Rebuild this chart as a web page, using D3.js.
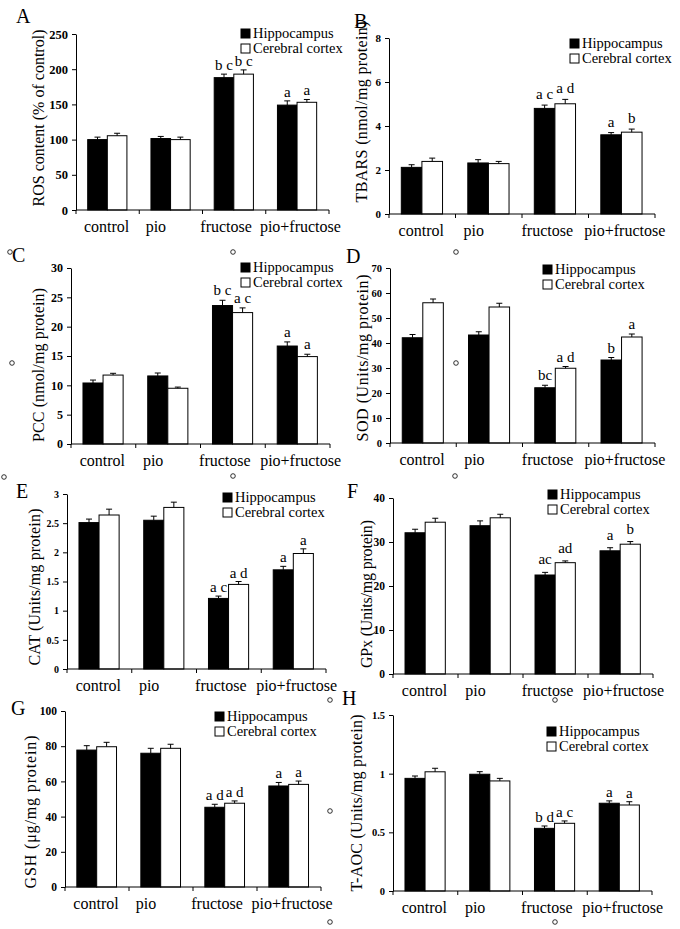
<!DOCTYPE html>
<html><head><meta charset="utf-8">
<script src="https://cdn.jsdelivr.net/npm/d3@7"></script>
<style>body{margin:0;background:#fff}svg{display:block}
svg text{font-family:"Liberation Serif","DejaVu Serif",serif}</style>
</head><body>
<svg id="chart" width="680" height="929"></svg>
<script>
// ---------- data ----------
const categories = ["control", "pio", "fructose", "pio+fructose"];
const seriesNames = ["Hippocampus", "Cerebral cortex"];

const rosHippo = [100, 101.5, 188, 149];
const rosCortex = [105.5, 100, 193, 153];
const rosHippoErr = [3.5, 3, 5, 6];
const rosCortexErr = [3.5, 3.5, 6, 4];
const rosHippoSig = ["", "", "b c", "a"];
const rosCortexSig = ["", "", "b c", "a"];
const rosTicks = [0, 50, 100, 150, 200, 250];

const tbarsHippo = [2.12, 2.32, 4.8, 3.6];
const tbarsCortex = [2.39, 2.29, 5.01, 3.72];
const tbarsHippoErr = [0.12, 0.15, 0.15, 0.1];
const tbarsCortexErr = [0.15, 0.1, 0.2, 0.14];
const tbarsHippoSig = ["", "", "a c", "a"];
const tbarsCortexSig = ["", "", "a d", "b"];
const tbarsTicks = [0, 2, 4, 6, 8];

const pccHippo = [10.4, 11.6, 23.6, 16.7];
const pccCortex = [11.75, 9.5, 22.4, 14.9];
const pccHippoErr = [0.5, 0.5, 0.9, 0.7];
const pccCortexErr = [0.3, 0.2, 0.8, 0.4];
const pccHippoSig = ["", "", "b c", "a"];
const pccCortexSig = ["", "", "a c", "a"];
const pccTicks = [0, 5, 10, 15, 20, 25, 30];

const sodHippo = [42.1, 43.2, 22.1, 33.2];
const sodCortex = [56.1, 54.4, 29.9, 42.4];
const sodHippoErr = [1.3, 1.3, 1, 1];
const sodCortexErr = [1.5, 1.5, 0.7, 1.2];
const sodHippoSig = ["", "", "bc", "b"];
const sodCortexSig = ["", "", "a d", "a"];
const sodTicks = [0, 10, 20, 30, 40, 50, 60, 70];

const catHippo = [2.51, 2.55, 1.21, 1.70];
const catCortex = [2.64, 2.77, 1.45, 1.98];
const catHippoErr = [0.06, 0.07, 0.04, 0.06];
const catCortexErr = [0.1, 0.09, 0.05, 0.08];
const catHippoSig = ["", "", "a c", "a"];
const catCortexSig = ["", "", "a d", "a"];
const catTicks = [0, 0.5, 1, 1.5, 2, 2.5, 3];

const gpxHippo = [32.1, 33.7, 22.5, 28];
const gpxCortex = [34.5, 35.5, 25.3, 29.5];
const gpxHippoErr = [0.8, 1.1, 0.6, 0.7];
const gpxCortexErr = [0.9, 0.8, 0.4, 0.6];
const gpxHippoSig = ["", "", "ac", "a"];
const gpxCortexSig = ["", "", "ad", "b"];
const gpxTicks = [0, 10, 20, 30, 40];

const gshHippo = [77.8, 76, 45.3, 57.4];
const gshCortex = [79.7, 78.8, 47.6, 58.3];
const gshHippoErr = [2.5, 2.8, 1.7, 2];
const gshCortexErr = [2.5, 2.3, 1.3, 1.9];
const gshHippoSig = ["", "", "a d", "a"];
const gshCortexSig = ["", "", "a d", "a"];
const gshTicks = [0, 20, 40, 60, 80, 100];

const taocHippo = [0.96, 0.995, 0.534, 0.748];
const taocCortex = [1.016, 0.938, 0.577, 0.733];
const taocHippoErr = [0.02, 0.022, 0.02, 0.02];
const taocCortexErr = [0.03, 0.022, 0.02, 0.028];
const taocHippoSig = ["", "", "b d", "a"];
const taocCortexSig = ["", "", "a c", "a"];
const taocTicks = [0, 0.5, 1, 1.5];

// ---------- layout ----------
const panels = [
  {letter: "A", yLabel: "ROS content (% of control)", h: rosHippo, c: rosCortex, he: rosHippoErr, ce: rosCortexErr, hs: rosHippoSig, cs: rosCortexSig, ticks: rosTicks,
   box: [76, 329, 34, 210], letterPos: [16, 23], legend: [241, 29], yl: [44, 118, 177], sigOff: 4, tickFs: 12.5},
  {letter: "B", yLabel: "TBARS (nmol/mg protein)", h: tbarsHippo, c: tbarsCortex, he: tbarsHippoErr, ce: tbarsCortexErr, hs: tbarsHippoSig, cs: tbarsCortexSig, ticks: tbarsTicks,
   box: [389, 655, 38, 214], letterPos: [354, 28], legend: [570, 39], yl: [367, 112, 181], sigOff: 6, tickFs: 11},
  {letter: "C", yLabel: "PCC (nmol/mg protein)", h: pccHippo, c: pccCortex, he: pccHippoErr, ce: pccCortexErr, hs: pccHippoSig, cs: pccCortexSig, ticks: pccTicks,
   box: [71, 330, 268, 444], letterPos: [12, 262], legend: [241, 263], yl: [44, 365, 154], sigOff: 5, tickFs: 12},
  {letter: "D", yLabel: "SOD (Units/mg protein)", h: sodHippo, c: sodCortex, he: sodHippoErr, ce: sodCortexErr, hs: sodHippoSig, cs: sodCortexSig, ticks: sodTicks,
   box: [390, 655, 268, 443], letterPos: [346, 263], legend: [543, 265], yl: [368, 358, 167], sigOff: 5, tickFs: 10.5},
  {letter: "E", yLabel: "CAT (Units/mg protein)", h: catHippo, c: catCortex, he: catHippoErr, ce: catCortexErr, hs: catHippoSig, cs: catCortexSig, ticks: catTicks,
   box: [67, 326, 494, 669], letterPos: [16, 498], legend: [223, 493], yl: [40, 587, 157], sigOff: 4, tickFs: 10},
  {letter: "F", yLabel: "GPx (Units/mg protein)", h: gpxHippo, c: gpxCortex, he: gpxHippoErr, ce: gpxCortexErr, hs: gpxHippoSig, cs: gpxCortexSig, ticks: gpxTicks,
   box: [393, 653, 498, 674], letterPos: [347, 498], legend: [548, 490], yl: [372, 594, 148], sigOff: 8, tickFs: 11.5},
  {letter: "G", yLabel: "GSH (\u03bcg/mg protein)", h: gshHippo, c: gshCortex, he: gshHippoErr, ce: gshCortexErr, hs: gshHippoSig, cs: gshCortexSig, ticks: gshTicks,
   box: [65, 321, 711, 887], letterPos: [11, 715], legend: [215, 712], yl: [36, 812, 153], sigOff: 4, tickFs: 11.5},
  {letter: "H", yLabel: "T-AOC (Units/mg protein)", h: taocHippo, c: taocCortex, he: taocHippoErr, ce: taocCortexErr, hs: taocHippoSig, cs: taocCortexSig, ticks: taocTicks,
   box: [393, 652, 715, 891], letterPos: [342, 705], legend: [547, 727], yl: [362, 803, 177], sigOff: 4, tickFs: 10.5}
];
const catLabelDx = [-1, -15, -8, 3];
const artifactDots = [[10,252],[233,252],[12,363],[456,252],[456,363],[4,477],[233,476],[455,476],[330,700],[330,811],[330,922],[555,700],[555,922]];

const svg = d3.select("#chart");

panels.forEach(p => {
  const [x0, x1, yTop, yBot] = p.box;
  const g = svg.append("g");
  const x = d3.scaleBand().domain(categories).range([x0, x1]).padding(0);
  const bw = x.bandwidth();
  const xs = d3.scaleBand().domain(seriesNames).range([bw * 0.185, bw * 0.805]).padding(0);
  const y = d3.scaleLinear().domain([0, d3.max(p.ticks)]).range([yBot, yTop]);

  const rows = [];
  categories.forEach((cat, i) => {
    rows.push({cat, s: seriesNames[0], v: p.h[i], e: p.he[i], sig: p.hs[i], fill: "#000"});
    rows.push({cat, s: seriesNames[1], v: p.c[i], e: p.ce[i], sig: p.cs[i], fill: "#fff"});
  });

  g.selectAll("rect.bar").data(rows).join("rect")
    .attr("x", d => x(d.cat) + xs(d.s))
    .attr("y", d => y(d.v))
    .attr("width", xs.bandwidth())
    .attr("height", d => y(0) - y(d.v))
    .attr("fill", d => d.fill)
    .attr("stroke", "#000").attr("stroke-width", 1);

  const cx = d => x(d.cat) + xs(d.s) + xs.bandwidth() / 2;
  g.selectAll("line.err").data(rows).join("line")
    .attr("x1", cx).attr("x2", cx)
    .attr("y1", d => y(d.v)).attr("y2", d => y(d.v + d.e))
    .attr("stroke", "#000").attr("stroke-width", 1);
  g.selectAll("line.cap").data(rows).join("line")
    .attr("x1", d => cx(d) - 3).attr("x2", d => cx(d) + 3)
    .attr("y1", d => y(d.v + d.e)).attr("y2", d => y(d.v + d.e))
    .attr("stroke", "#000").attr("stroke-width", 1);

  g.selectAll("text.sig").data(rows.filter(d => d.sig)).join("text")
    .attr("x", cx).attr("y", d => y(d.v + d.e) - p.sigOff)
    .attr("text-anchor", "middle")
    .attr("font-size", 15)
    .text(d => d.sig);

  const yAxis = d3.axisLeft(y).tickValues(p.ticks).tickSize(4).tickSizeOuter(0).tickPadding(4)
    .tickFormat(d => String(d));
  const ya = g.append("g").attr("transform", `translate(${x0},0)`).call(yAxis);
  ya.attr("font-family", null);
  ya.select(".domain").attr("stroke", "#000");
  ya.selectAll(".tick line").attr("stroke", "#000");
  ya.selectAll(".tick text").attr("font-size", p.tickFs)
    .attr("font-weight", "bold").attr("fill", "#000");

  g.append("line").attr("x1", x0).attr("x2", x1).attr("y1", yBot).attr("y2", yBot)
    .attr("stroke", "#000");
  const bounds = categories.map(c => x(c)).concat([x1]);
  g.selectAll("line.xt").data(bounds).join("line")
    .attr("x1", d => d).attr("x2", d => d).attr("y1", yBot).attr("y2", yBot + 4)
    .attr("stroke", "#000");
  g.selectAll("text.cat").data(categories).join("text")
    .attr("x", (d, i) => x(d) + bw / 2 + catLabelDx[i])
    .attr("y", yBot + 22)
    .attr("text-anchor", "middle")
    .attr("font-size", 16)
    .text(d => d);

  g.append("text")
    .attr("transform", `translate(${p.yl[0]},${p.yl[1]}) rotate(-90)`)
    .attr("text-anchor", "middle")
    .attr("font-size", 16)
    .attr("textLength", p.yl[2]).attr("lengthAdjust", "spacing")
    .text(p.yLabel);

  g.append("text").attr("x", p.letterPos[0]).attr("y", p.letterPos[1])
    .attr("font-size", 20).text(p.letter);

  const lg = g.append("g").attr("transform", `translate(${p.legend[0]},${p.legend[1]})`);
  const items = lg.selectAll("g").data(seriesNames).join("g")
    .attr("transform", (d, i) => `translate(0,${i * 15})`);
  items.append("rect").attr("width", 9).attr("height", 9)
    .attr("fill", (d, i) => i === 0 ? "#000" : "#fff").attr("stroke", "#000");
  items.append("text").attr("x", 12).attr("y", 9)
    .attr("font-size", 14.5).text(d => d);
});

svg.selectAll("circle.dot").data(artifactDots).join("circle")
  .attr("cx", d => d[0]).attr("cy", d => d[1]).attr("r", 2.3)
  .attr("fill", "#fff").attr("stroke", "#000").attr("stroke-width", 0.8);
</script>
</body></html>
